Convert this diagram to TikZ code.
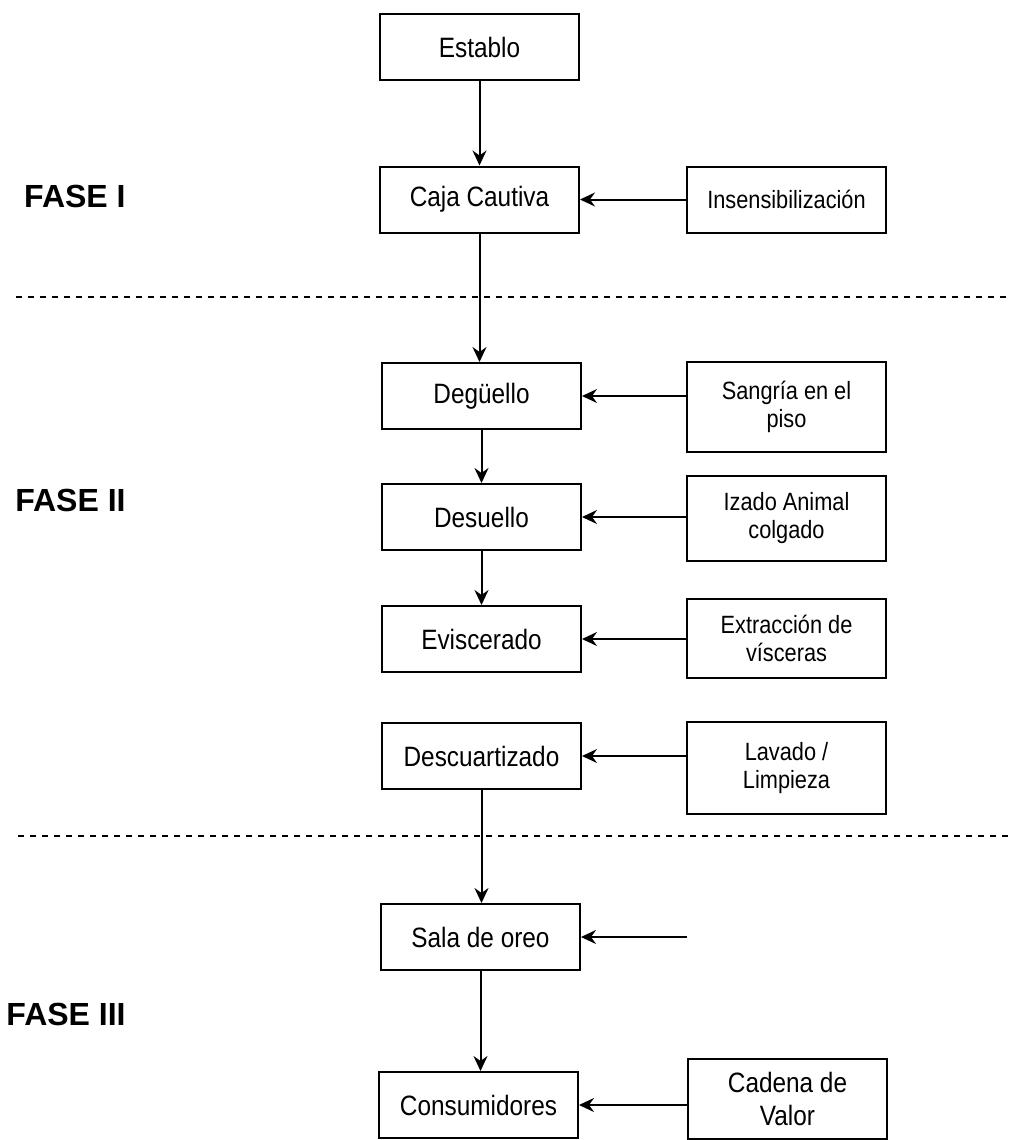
\documentclass[tikz,border=0pt]{standalone}
\usepackage{fontspec}
\setmainfont{Liberation Sans}
\newfontfamily\boxfont{Liberation Sans}[FakeStretch=0.87]
\usepackage{tikz}
\usetikzlibrary{arrows.meta}

\begin{document}
\begin{tikzpicture}[x=0.5pt, y={(0pt,-0.5pt)},
    stepbox/.style={draw, line width=1pt, minimum width=99.5pt, minimum height=33pt,
        inner sep=0pt, align=center, font=\boxfont\fontsize{14}{16.5}\selectfont},
    sidebox/.style={stepbox, font=\boxfont\fontsize{12.5}{14}\selectfont},
    flow/.style={-{Stealth[length=7.5pt, width=7pt, inset=2.5pt]}, line width=1pt},
    phase/.style={anchor=east, inner sep=0pt, font=\bfseries\fontsize{16}{19}\selectfont},
    border/.style={line width=0.75pt, dash pattern=on 3pt off 3pt}]
\useasboundingbox (0,0) rectangle (1008,1140);

% Phases
\foreach \y/\fase/\n in {196/FASE I/1, 500/FASE II/2, 1014/FASE III/3} {
    \node[phase] (fase\n) at (126,\y) {\fase};
}
\foreach \x/\y in {16/297, 18/836} {
    \draw[border] (\x,\y) -- (1008,\y);
}

% Main line
\node[stepbox] (establo) at (479.5,47) {Establo};
\node[stepbox] (caja) at (479.5,199.5) {Caja Cautiva};
\node[stepbox] (deguello) at (481.5,396) {Degüello};
\node[stepbox] (desuello) at (481.5,517) {Desuello};
\node[stepbox] (eviscerado) at (481.5,639) {Eviscerado};
\node[stepbox] (descuartizado) at (481.5,756) {Descuartizado};
\node[stepbox] (oreo) at (480.5,937) {Sala de oreo};
\node[stepbox] (consumidores) at (478.5,1105) {Consumidores};

% Side inputs
\node[sidebox] (insens) at (786.5,199.5) {Insensibilización};
\node[sidebox, minimum height=45pt] (sangria) at (786.5,407) {Sangría en el\\piso};
\node[sidebox, minimum height=42.5pt] (izado) at (786.5,518.5) {Izado Animal\\colgado};
\node[sidebox, minimum height=39.5pt] (extraccion) at (786.5,638.5) {Extracción de\\vísceras};
\node[sidebox, minimum height=46pt] (lavado) at (786.5,768) {Lavado /\\Limpieza};
\node[stepbox, minimum height=40pt] (cadena) at (787.5,1099) {Cadena de\\Valor};
\coordinate (oreoin) at (687,937);

% Arrows down
\draw[flow] (establo.south) -- (establo.south |- caja.north);
\draw[flow] (caja.south) -- (caja.south |- deguello.north);
\draw[flow] (deguello.south) -- (deguello.south |- desuello.north);
\draw[flow] (desuello.south) -- (desuello.south |- eviscerado.north);
\draw[flow] (descuartizado.south) -- (descuartizado.south |- oreo.north);
\draw[flow] (oreo.south) -- (oreo.south |- consumidores.north);

% Arrows in
\draw[flow] (insens.west |- caja.east) -- (caja.east);
\draw[flow] (sangria.west |- deguello.east) -- (deguello.east);
\draw[flow] (izado.west |- desuello.east) -- (desuello.east);
\draw[flow] (extraccion.west |- eviscerado.east) -- (eviscerado.east);
\draw[flow] (lavado.west |- descuartizado.east) -- (descuartizado.east);
\draw[flow] (oreoin) -- (oreo.east);
\draw[flow] (cadena.west |- consumidores.east) -- (consumidores.east);
\end{tikzpicture}
\end{document}
